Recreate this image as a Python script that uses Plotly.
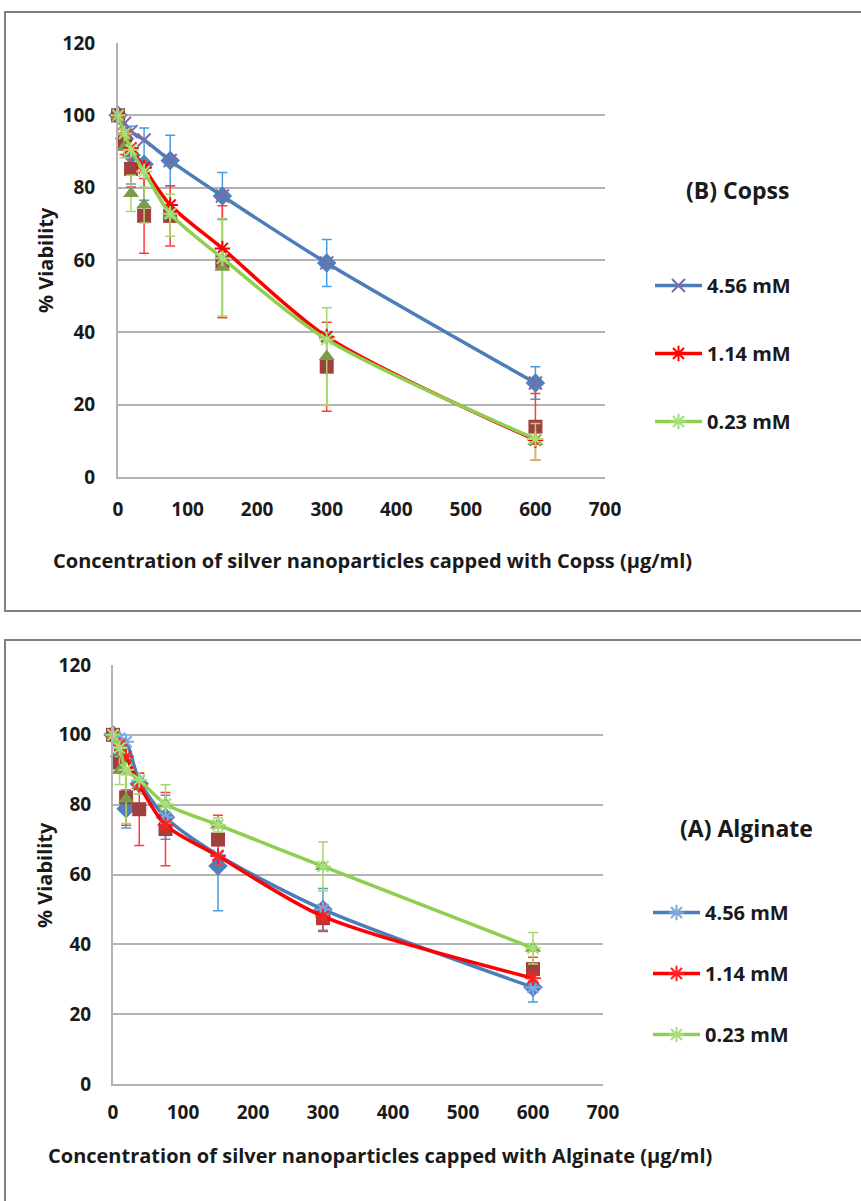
import plotly.graph_objects as go

# ---------------- data ----------------
conc = [0, 9.375, 18.75, 37.5, 75, 150, 300, 600]
series_names = ["4.56 mM", "1.14 mM", "0.23 mM"]

# (B) Copss - measured points
copss_456 = [100, 93.5, 89.0, 86.5, 87.5, 77.7, 59.2, 26.0]
copss_456_err = [0, 3.0, 8.0, 10.0, 7.0, 6.5, 6.5, 4.5]
copss_114 = [100, 92.2, 85.2, 72.2, 72.2, 59.5, 30.5, 13.9]
copss_114_err = [0, 3.0, 5.0, 10.3, 8.3, 15.5, 12.3, 9.2]
copss_023 = [100, 91.3, 78.4, 75.2, 72.4, 58.0, 33.3, 9.8]
copss_023_err = [0, 3.0, 5.0, 5.0, 5.8, 13.5, 13.5, 5.0]
# (B) Copss - fitted lines
copss_456_line = [100, 97.8, 95.5, 93.2, 87.5, 77.7, 59.2, 26.0]
copss_114_line = [100, 95.0, 91.0, 85.5, 75.2, 63.2, 38.8, 10.2]
copss_023_line = [100, 95.0, 90.5, 84.5, 72.8, 60.5, 38.0, 10.5]

# (A) Alginate - measured points
alg_456 = [100, 93.8, 78.8, 86.0, 76.4, 62.4, 50.0, 27.7]
alg_456_err = [0, 3.0, 5.5, 3.0, 6.3, 12.8, 6.0, 4.2]
alg_114 = [100, 92.1, 82.1, 78.7, 73.0, 70.0, 47.5, 32.9]
alg_114_err = [0, 3.0, 8.0, 10.4, 10.5, 7.0, 3.8, 3.4]
alg_023 = [100, 89.8, 81.6, 85.5, 80.2, 74.2, 62.3, 38.9]
alg_023_err = [0, 4.0, 7.0, 2.5, 5.5, 2.0, 7.0, 4.5]
# (A) Alginate - fitted lines
alg_456_line = [100, 99.0, 98.0, 86.9, 76.4, 65.6, 50.0, 27.7]
alg_114_line = [100, 97.0, 93.8, 85.7, 74.2, 65.3, 48.0, 30.3]
alg_023_line = [100, 96.2, 90.0, 87.1, 80.2, 74.2, 62.3, 38.9]

y_ticks = [0, 20, 40, 60, 80, 100, 120]
x_ticks = [0, 100, 200, 300, 400, 500, 600, 700]

# ---------------- styles ----------------
W, H = 861, 1201
FONT = "Open Sans"
TXT = "#1a1a1a"
pt_colors = ["#4F81BD", "#A0403D", "#7F9A48"]
pt_symbols = ["diamond", "square", "triangle-up"]
pt_sizes = [15, 14, 14]
err_colors = ["#4A9BDC", "#FF3B3B", "#A6D96A"]
line_colors = ["#4A7EBB", "#FF0000", "#8FCF50"]
top_mk_colors = ["#7E6BA8", "#FF0000", "#A6E07A"]
top_mk_symbols = ["x-thin-open", "asterisk-open", "asterisk-open"]
bot_mk_colors = ["#7FA8E0", "#FF2020", "#A6E07A"]
bot_mk_symbols = ["asterisk-open", "asterisk-open", "asterisk-open"]

fig = go.Figure()


def add_panel(xa, ya, legend, pts, errs, lines, mk_colors, mk_symbols):
    for i in range(3):
        fig.add_trace(go.Scatter(
            x=conc, y=pts[i], mode="markers", xaxis=xa, yaxis=ya,
            marker=dict(symbol=pt_symbols[i], size=pt_sizes[i], color=pt_colors[i]),
            error_y=dict(type="data", array=errs[i], visible=True,
                         color=err_colors[i], thickness=1.5, width=5),
            showlegend=False, cliponaxis=False, hoverinfo="x+y"))
    for i in range(3):
        fig.add_trace(go.Scatter(
            x=conc, y=lines[i], mode="lines+markers", xaxis=xa, yaxis=ya,
            name=series_names[i], legend=legend, legendgroup=legend + str(i),
            line=dict(color=line_colors[i], width=3.5, shape="spline", smoothing=0.8),
            marker=dict(symbol=mk_symbols[i], size=13, color=mk_colors[i],
                        line=dict(color=mk_colors[i], width=2)),
            cliponaxis=False))


add_panel("x", "y", "legend",
          [copss_456, copss_114, copss_023],
          [copss_456_err, copss_114_err, copss_023_err],
          [copss_456_line, copss_114_line, copss_023_line],
          top_mk_colors, top_mk_symbols)
add_panel("x2", "y2", "legend2",
          [alg_456, alg_114, alg_023],
          [alg_456_err, alg_114_err, alg_023_err],
          [alg_456_line, alg_114_line, alg_023_line],
          bot_mk_colors, bot_mk_symbols)

tickfont = dict(family=FONT, size=19, color=TXT, weight="bold")
grid = "#B3B3B3"


def xax(domain, anchor, standoff):
    return dict(domain=domain, anchor=anchor, range=[0, 700], tickvals=x_ticks,
                showgrid=False, zeroline=False, showline=True, linecolor=grid,
                linewidth=2, ticks="", tickfont=tickfont, ticklabelstandoff=standoff,
                fixedrange=True, automargin=False)


def yax(domain, anchor, standoff):
    return dict(domain=domain, anchor=anchor, range=[0, 120], tickvals=y_ticks,
                showgrid=True, gridcolor=grid, gridwidth=2, zeroline=False,
                showline=True, linecolor=grid, linewidth=2, ticks="",
                tickfont=tickfont, ticklabelstandoff=standoff, fixedrange=True,
                automargin=False)


legfont = dict(family=FONT, size=20, color=TXT, weight="bold")

fig.update_layout(
    width=W, height=H, margin=dict(l=0, r=0, t=0, b=0, autoexpand=False),
    paper_bgcolor="white", plot_bgcolor="white",
    xaxis=xax([118 / W, 605 / W], "y", 14),
    yaxis=yax([1 - 477 / H, 1 - 43 / H], "x", 17),
    xaxis2=xax([113 / W, 603 / W], "y2", 10),
    yaxis2=yax([1 - 1084 / H, 1 - 665 / H], "x2", 16),
    legend=dict(x=650 / W, y=1 - 266 / H, xanchor="left", yanchor="top",
                bgcolor="rgba(0,0,0,0)", tracegroupgap=39, itemwidth=47,
                font=legfont),
    legend2=dict(x=648 / W, y=1 - 893 / H, xanchor="left", yanchor="top",
                 bgcolor="rgba(0,0,0,0)", tracegroupgap=32, itemwidth=47,
                 font=legfont),
    shapes=[
        dict(type="rect", xref="paper", yref="paper", x0=5 / W, x1=1.02,
             y0=1 - 611 / H, y1=1 - 12 / H, line=dict(color="#808080", width=2)),
        dict(type="rect", xref="paper", yref="paper", x0=5 / W, x1=1.02,
             y0=-0.02, y1=1 - 640 / H, line=dict(color="#808080", width=2)),
    ],
)

titlefont = dict(family=FONT, size=20, color=TXT, weight="bold")
panelfont = dict(family=FONT, size=23, color=TXT, weight="bold")


def note(x, y, text, font, angle=0):
    fig.add_annotation(x=x / W, y=1 - y / H, xref="paper", yref="paper",
                       xanchor="center", yanchor="middle", text=text,
                       textangle=angle, showarrow=False, font=font)


note(45, 260, "% Viability", titlefont, -90)
note(44, 875, "% Viability", titlefont, -90)
note(372, 560, "Concentration of silver nanoparticles capped with Copss (µg/ml)", titlefont)
note(380, 1155, "Concentration of silver nanoparticles capped with Alginate (µg/ml)", titlefont)
note(737, 190, "(B) Copss", panelfont)
note(746, 828, "(A) Alginate", panelfont)

fig.write_html("out.html")
